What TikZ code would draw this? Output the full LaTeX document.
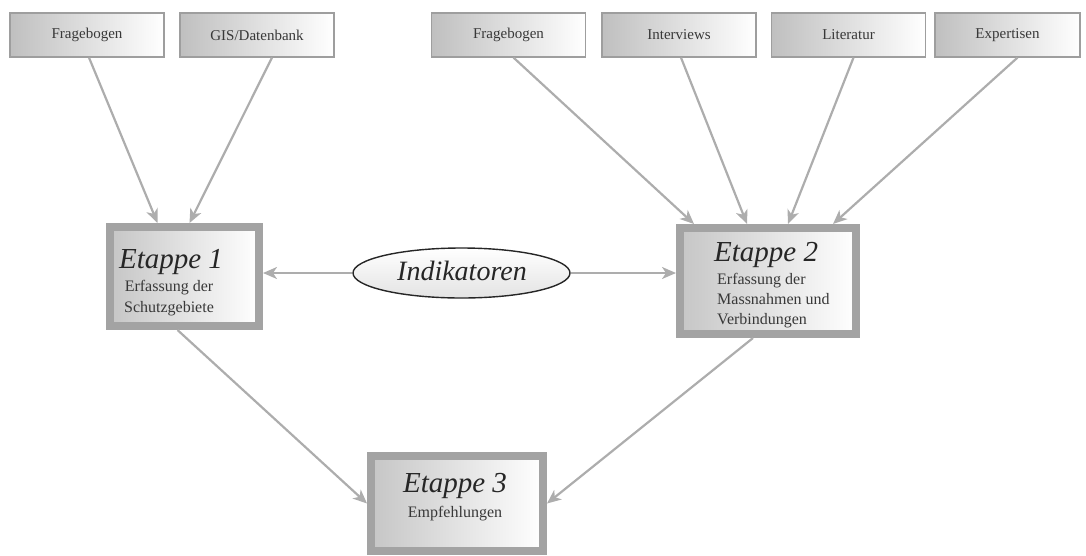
\documentclass[tikz,border=0pt]{standalone}
\usepackage{fontspec}
\setmainfont{Liberation Serif}
\usetikzlibrary{arrows.meta,calc,shapes.geometric}
\definecolor{arr}{gray}{0.68}
\definecolor{bord}{gray}{0.64}
\definecolor{sbord}{gray}{0.62}
\definecolor{txt}{gray}{0.22}
\begin{document}
\begin{tikzpicture}[x=1pt,y=-1pt,
  src/.style={draw=sbord, line width=1.2pt, left color=gray!50, right color=white,
    minimum width=154pt, minimum height=44pt, inner sep=0pt,
    font=\fontsize{15}{18}\selectfont, text=txt},
  stage/.style={draw=bord, line width=8pt, left color=gray!45, right color=white,
    inner sep=0pt, outer sep=4pt},
  big/.style={anchor=base, inner sep=0pt, font=\fontsize{29}{32}\selectfont\itshape, text=black!85},
  small/.style={anchor=base, inner sep=0pt, font=\fontsize{16}{20}\selectfont, text=txt},
  conn/.style={draw=arr, line width=2.2pt, -{Stealth[length=14pt,width=12pt,inset=4pt]}},
]
\useasboundingbox (0,0) rectangle (1086,555);

% source boxes
\node[src] (fb1) at (87,35) {Fragebogen};
\node[src] (gis) at (257,35) {GIS/Datenbank};
\node[src] (fb2) at (508.5,35) {Fragebogen};
\node[src] (int) at (679,35) {Interviews};
\node[src] (lit) at (848.5,35) {Literatur};
\node[src, minimum width=145pt] (exp) at (1007.5,35) {Expertisen};

% stage boxes
\node[stage, minimum width=149pt, minimum height=99pt] (e1) at (184.5,276.5) {};
\node[stage, minimum width=176pt, minimum height=106pt] (e2) at (768,281) {};
\node[stage, minimum width=172pt, minimum height=95pt] (e3) at (457,503.5) {};

% stage texts
\node[big]   (e1a) at (171,268) {Etappe 1};
\node[small] (e1b) at (169,291) {Erfassung der};
\node[small] (e1c) at (169,312) {Schutzgebiete};

\node[big, anchor=base west]   (e2a) at (714,261) {Etappe 2};
\node[small, anchor=base west] (e2b) at (717,284) {Erfassung der};
\node[small, anchor=base west] (e2c) at (717,304) {Massnahmen und};
\node[small, anchor=base west] (e2d) at (717,324) {Verbindungen};

\node[big]   (e3a) at (455,492) {Etappe 3};
\node[small] (e3b) at (455,517) {Empfehlungen};

% indicator ellipse
\node[ellipse, draw=black!85, line width=1.4pt, top color=white, bottom color=gray!22,
  minimum width=217pt, minimum height=50pt, inner sep=0pt] (ind) at (461.5,273) {};
\node[anchor=base, inner sep=0pt, font=\fontsize{28}{32}\selectfont\itshape, text=black!85]
  (indt) at (462,280) {Indikatoren};

% connectors
\draw[conn] ($(fb1.south)+(2,0)$) -- ($(e1.north)+(-27,0)$);
\draw[conn] ($(gis.south)+(15,0)$) -- ($(e1.north)+(5,0)$);
\draw[conn] ($(fb2.south)+(5,0)$) -- ($(e2.north)+(-74,0)$);
\draw[conn] ($(int.south)+(2,0)$) -- ($(e2.north)+(-21,0)$);
\draw[conn] ($(lit.south)+(5,0)$) -- ($(e2.north)+(20,0)$);
\draw[conn] ($(exp.south)+(10,0)$) -- ($(e2.north)+(65,0)$);
\draw[conn] (ind.west) -- (ind.west -| e1.east);
\draw[conn] (ind.east) -- (ind.east -| e2.west);
\draw[conn] ($(e1.south)+(-7,0)$) -- (e3.west);
\draw[conn] ($(e2.south)+(-15,0)$) -- (e3.east);
\end{tikzpicture}
\end{document}
